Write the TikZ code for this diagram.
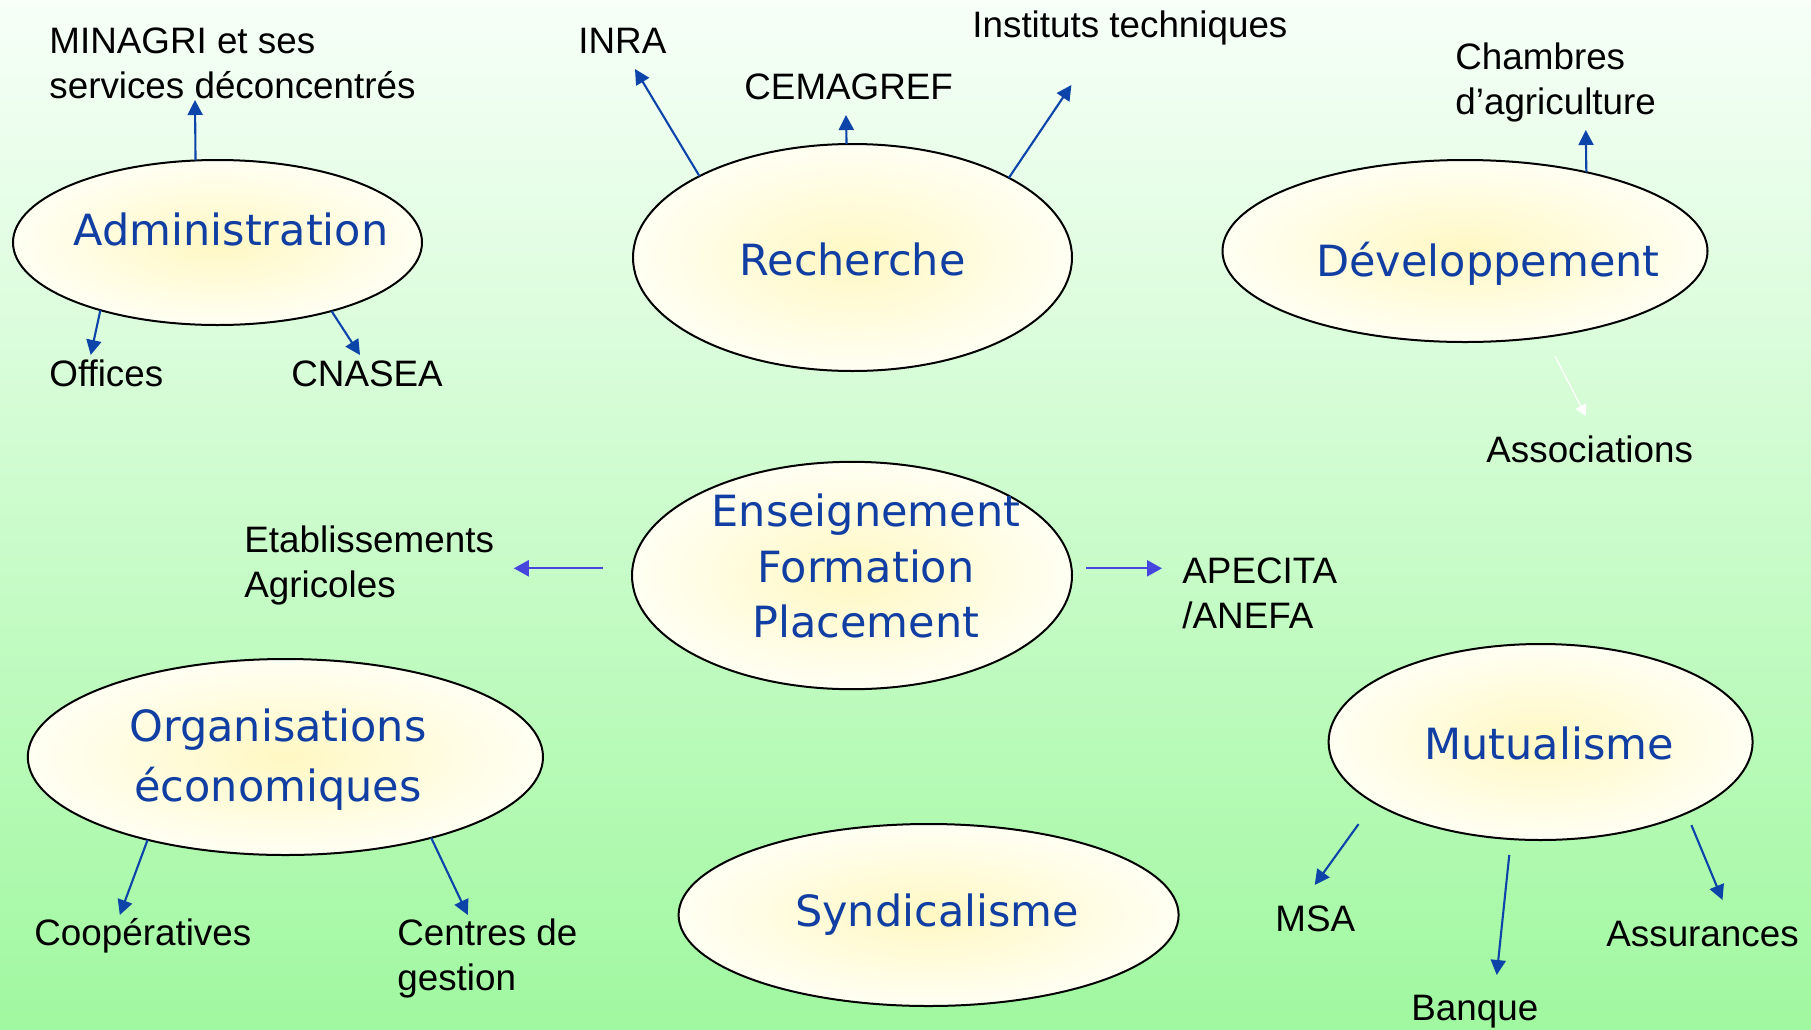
\documentclass[tikz,border=0pt]{standalone}
\usepackage{fontspec}
\setmainfont{Liberation Sans}
\newfontfamily\bubfam{DejaVu Sans}
\usetikzlibrary{shapes.geometric,arrows.meta}
\definecolor{bgtop}{RGB}{247,255,248}
\definecolor{bgbot}{RGB}{160,248,160}
\definecolor{ellin}{RGB}{255,248,195}
\definecolor{ellout}{RGB}{255,255,243}
\definecolor{txtblue}{RGB}{16,62,162}
\definecolor{arrblue}{RGB}{12,68,170}
\definecolor{harrblue}{RGB}{70,70,222}
\newcommand{\lblfont}{\fontsize{18.4pt}{22.5pt}\selectfont}
\newcommand{\bubfont}{\bubfam\fontsize{21.5pt}{27.75pt}\selectfont}
\tikzset{
  bubble/.style={ellipse, draw=black, line width=1pt, inner color=ellin, outer color=ellout, inner sep=0pt, outer sep=0pt},
  bubtext/.style={font=\bubfont, text=txtblue, inner sep=0pt, anchor=base},
  lbl/.style={font=\lblfont, text=black, inner sep=0pt, anchor=base west},
  arr/.style={draw=arrblue, line width=1.05pt, -{Triangle[length=7.5pt,width=7.5pt]}},
  harr/.style={draw=harrblue, line width=1.15pt, -{Triangle[length=7.5pt,width=8pt]}},
  warr/.style={draw=white, line width=0.6pt, -{Triangle[length=5.5pt,width=6pt]}}
}
\begin{document}
\begin{tikzpicture}[x=0.5pt,y=-0.5pt]
\useasboundingbox (0,0) rectangle (1811,1029);
\shade[top color=bgtop, bottom color=bgbot] (0,0) rectangle (1811,1029);

% ellipses
\node[bubble, minimum width=204.5pt, minimum height=82.5pt] (adm) at (217.5,242.5) {};
\node[bubble, minimum width=219.5pt, minimum height=113.5pt] (rech) at (852.5,257.5) {};
\node[bubble, minimum width=242.5pt, minimum height=91pt] (dev) at (1465,251) {};
\node[bubble, minimum width=220pt, minimum height=113.7pt] (ens) at (852,575.5) {};
\node[bubble, minimum width=257.6pt, minimum height=98pt] (org) at (285.4,757) {};
\node[bubble, minimum width=212pt, minimum height=98pt] (mut) at (1540.6,742) {};
\node[bubble, minimum width=250pt, minimum height=91pt] (syn) at (928.6,915) {};

% ellipse texts
\node[bubtext] (admt) at (231,245) {Administration};
\node[bubtext] (recht) at (852.5,275.3) {Recherche};
\node[bubtext] (devt) at (1488,276.7) {Développement};
\node[bubtext] (enst) at (866,526.7) {\begin{tabular}[t]{@{}c@{}}Enseignement\\Formation\\Placement\end{tabular}};
\node[bubtext, font=\bubfam\fontsize{21.5pt}{30pt}\selectfont] (orgt) at (278,741.7) {\begin{tabular}[t]{@{}c@{}}Organisations\\économiques\end{tabular}};
\node[bubtext] (mutt) at (1549,759) {Mutualisme};
\node[bubtext] (synt) at (937,926) {Syndicalisme};

% labels
\node[lbl] (minagri) at (49,53) {\begin{tabular}[t]{@{}l@{}}MINAGRI et ses\\services déconcentrés\end{tabular}};
\node[lbl] (offices) at (49,386) {Offices};
\node[lbl] (cnasea) at (291,386) {CNASEA};
\node[lbl] (inra) at (578,53) {INRA};
\node[lbl] (cemagref) at (744,99) {CEMAGREF};
\node[lbl] (instituts) at (972,37) {Instituts techniques};
\node[lbl] (chambres) at (1455,69) {\begin{tabular}[t]{@{}l@{}}Chambres\\d’agriculture\end{tabular}};
\node[lbl] (assoc) at (1486,462) {Associations};
\node[lbl] (etab) at (244,552) {\begin{tabular}[t]{@{}l@{}}Etablissements\\Agricoles\end{tabular}};
\node[lbl] (apecita) at (1182,583) {\begin{tabular}[t]{@{}l@{}}APECITA\\/ANEFA\end{tabular}};
\node[lbl] (coop) at (34,945) {Coopératives};
\node[lbl] (centres) at (397,945) {\begin{tabular}[t]{@{}l@{}}Centres de\\gestion\end{tabular}};
\node[lbl] (msa) at (1275,931) {MSA};
\node[lbl] (banque) at (1411,1020) {Banque};
\node[lbl] (assur) at (1606,946) {Assurances};

% arrow tips
\coordinate (tMin) at (195,100);
\coordinate (tOff) at (90.7,355);
\coordinate (tCna) at (360,355);
\coordinate (tInra) at (635,69);
\coordinate (tCem) at (846,115);
\coordinate (tInst) at (1071.4,85);
\coordinate (tCha) at (1585.8,130);
\coordinate (tAss) at (1585.8,416);
\coordinate (tEtab) at (513.8,568.3);
\coordinate (tApe) at (1162,568.3);
\coordinate (tCoop) at (119.8,915);
\coordinate (tCen) at (467.8,915);
\coordinate (tMsa) at (1314.7,885);
\coordinate (tBan) at (1496.7,975);
\coordinate (tAsr) at (1722.5,900);

% connectors
\draw[arr] (adm.105.3) -- (tMin);
\draw[arr] (adm.210.7) -- (tOff);
\draw[arr] (adm.329.3) -- (tCna);
\draw[arr] (rech.152.7) -- (tInra);
\draw[arr] (rech.93.3) -- (tCem);
\draw[arr] (rech.27.2) -- (tInst);
\draw[arr] (dev.33.2) -- (tCha);
\draw[warr, shorten <=10.8pt] (dev.313.25) -- (tAss);
\draw[harr, shorten <=14.55pt] (ens.west |- tEtab) -- (tEtab);
\draw[harr, shorten <=7.2pt] (ens.east |- tApe) -- (tApe);
\draw[arr] (org.211.2) -- (tCoop);
\draw[arr] (org.331.3) -- (tCen);
\draw[arr, shorten <=13.25pt] (mut.200.6) -- (tMsa);
\draw[arr, shorten <=8pt] (mut.253.8) -- (tBan);
\draw[arr, shorten <=6.5pt] (mut.334.1) -- (tAsr);
\end{tikzpicture}
\end{document}
